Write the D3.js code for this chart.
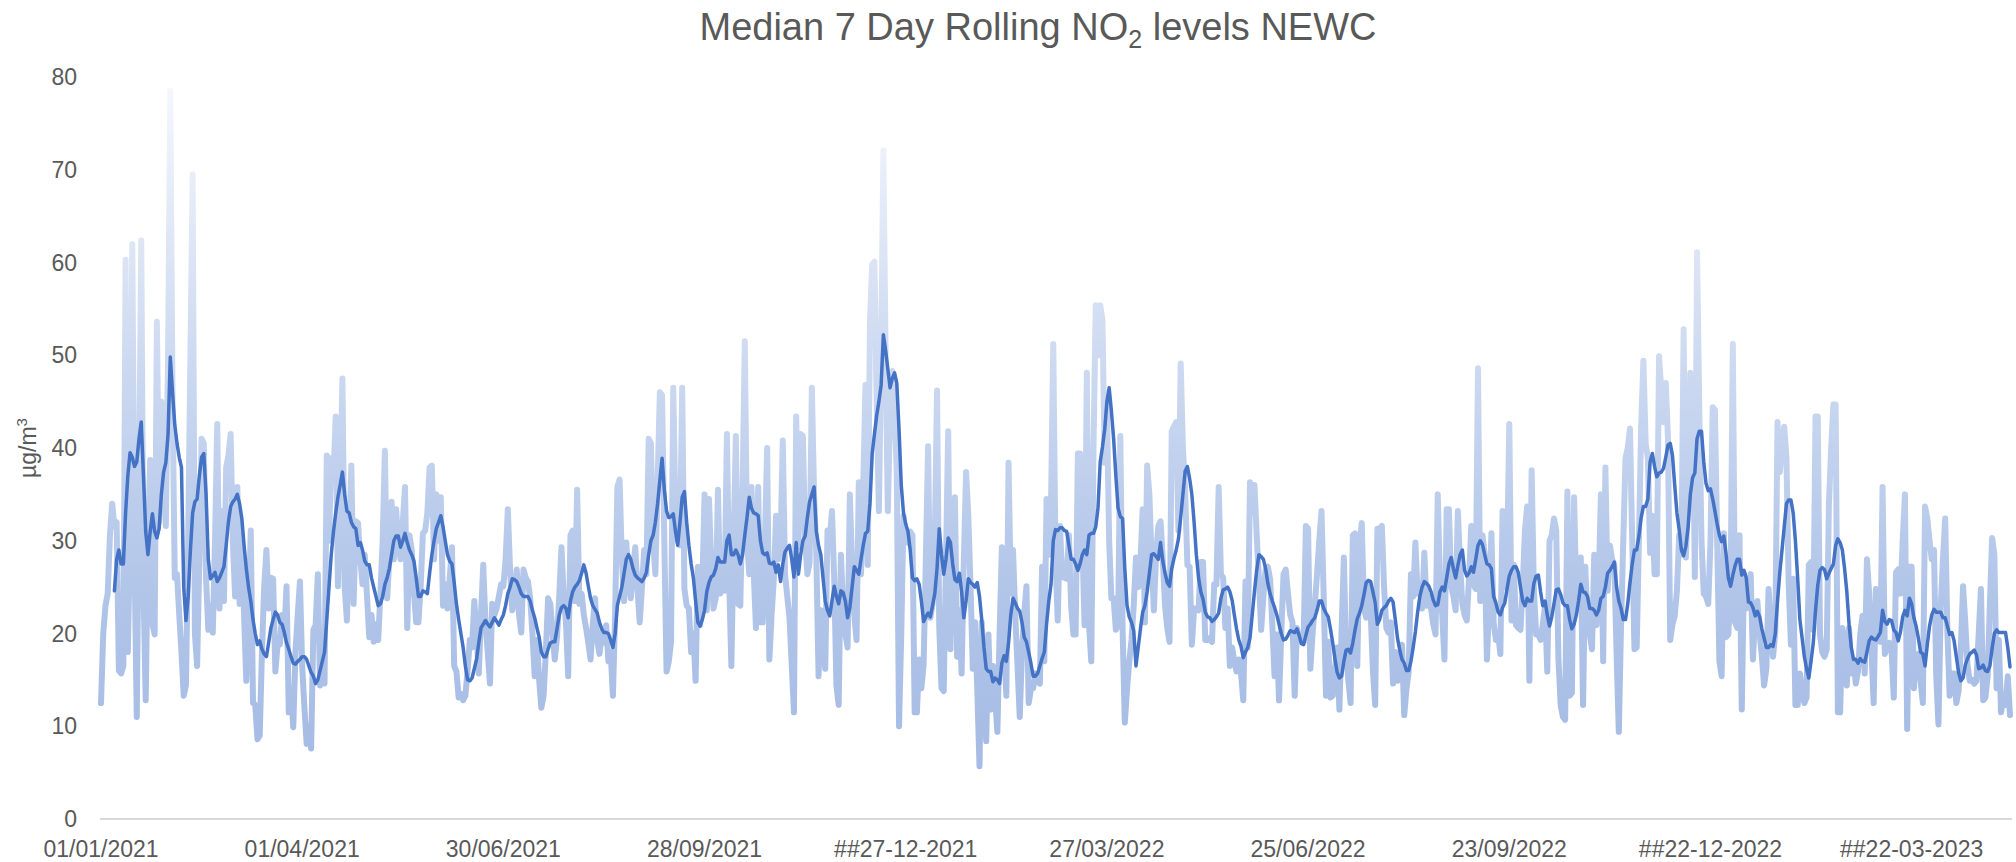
<!DOCTYPE html>
<html>
<head>
<meta charset="utf-8">
<script src="https://cdn.jsdelivr.net/npm/d3@7"></script>
<style>
  html, body { margin: 0; padding: 0; background: #ffffff; }
  svg { display: block; }
  text { font-family: "Liberation Sans", Arial, sans-serif; fill: #595959; }
</style>
</head>
<body>
<script>
// ---- Data ----
const startDate = "01/01/2021";
const tickDays = [0, 90, 180, 270, 360, 450, 540, 630, 720, 810];
const tickLabels = ["01/01/2021", "01/04/2021", "30/06/2021", "28/09/2021", "##27-12-2021",
                    "27/03/2022", "25/06/2022", "23/09/2022", "##22-12-2022", "##22-03-2023"];
const yTicks = [0, 10, 20, 30, 40, 50, 60, 70, 80];

// daily NO2 values, one per day from 01/01/2021
const dailyNO2 = [
12.5,20,23,24.3,30.6,34,31.6,32,16,15.7,
16.5,60.3,18,30,62,28,11,35,62.4,25,
12.8,30,38.7,21,19.9,53.6,32,45,38,31.6,
50,78.5,45,26,26.4,22,18,13.3,14.4,30,
50,69.5,20,16.5,28,41,40.5,25.9,20.4,23,
20.1,30,42.6,22.7,33.2,23.5,37.9,39.2,41.5,29.8,
24,35.8,23.2,30.6,22,14.9,22,31.1,12.5,12.3,
8.6,9,18,25,29,22.7,26,25.9,15.9,18.8,
18.8,22,20,25.1,11.5,14,9.9,18,22,25.6,
16.5,12,8.1,10,7.6,20.4,20.9,26.4,14.4,16,
14.6,39.2,30,38.9,36.8,43.4,25.1,35,47.5,25.1,
21.4,30,38.1,23.2,32.1,31.9,28,25.3,28.5,24,
19.6,22,19.1,21,19.3,24.3,30,39.7,23.8,28,
34.2,28,33.4,30,28,32,35.8,20.6,30.6,29,
24.3,21.2,21.2,25,30.8,31.1,33,37.9,38.1,28,
35,30,34.7,23,25.3,22.7,26,29.3,16.5,15.9,
13.1,13.5,12.8,13.3,16,19.3,18.5,23.5,20,15.7,
22,27.4,21.2,18,14.6,23.2,22,22.7,24,25.3,
25.1,28,33.4,26.9,22.5,24,26.9,22,20.1,26.9,
26,25.6,23.8,20,15.4,19.3,15,12,13.3,18,
23.8,23.2,20,17.2,19.6,24,29.3,24,21.2,15.4,
30.6,31.1,23.5,35.5,23.2,24.3,22,20.6,19,17.2,
21,23.8,19.3,17.8,20.1,19,20.9,17,18,13.3,
22,35.8,36.6,28,23.5,29.8,26,23.8,27,29.3,
24.8,21.2,25,29,26.4,41,40.5,30,26.4,36.3,
46,45.7,30,15.9,17,19.1,46.5,32.7,30,29.5,
46.5,24.8,23,22.7,18,20,14.9,27.2,20.9,25,
35,22.5,34.5,27,22.7,23.8,35.5,24.3,26,24.6,
41.5,25.9,16.5,30,41.3,23.2,23,35,51.5,30,
26.4,35.8,26.6,20.6,35.8,21.2,21.2,30,40,17.2,
22,25.9,32.7,28,30,40.8,26.4,24,21.7,16.7,
11.5,43.4,29.3,41.5,41.3,30,26.4,27.7,46.5,35,
28.5,15.4,22.5,19,16.2,31.1,30,33.2,25.9,14.4,
12.3,28.5,22.7,20,18.5,35,27.2,22,19.3,36.3,
26.4,36,46.8,27.4,53.6,59.8,60.1,45,33.2,50.4,
72.1,50,33.2,44.1,48.3,44,37.4,10,20,32.7,
30,29.8,31,30.6,11.5,11.5,17.2,14.1,16.7,28,
40.2,21.7,23.2,30,46.2,20.6,14.1,13.8,28,41.8,
18.3,30,34.7,17.5,22.5,15.7,28,37.4,32.7,25,
16.2,21.2,14,5.7,21.2,15,8.4,19.9,11.8,16.5,
13,9.4,20,29.3,18.5,13.3,38.4,24.3,29,22,
16.5,11,18,22.2,25.1,12.5,14,14.1,15.7,15,
14.6,27.2,17,34.5,28.5,34,51.2,28,21.4,31.6,
26.1,26,25.9,30.6,23,19.9,19.9,39.4,39.4,30,
20.9,48.1,20.9,17,40,55.4,50,55.4,53.8,38.4,
44.7,30,23.8,23.8,20.4,20.9,41.3,20.6,10.4,14,
17,19.3,23,28.2,25,27.7,33.4,21.2,38.1,35,
28,22.5,28.5,31.6,32.1,28,23,20.6,19.1,41.8,
42.3,42.8,31.1,49.1,40,35.3,27.4,27.2,18.8,22.7,
22.7,22.5,27.7,27.7,19.3,19.3,19.5,19.1,25.3,25.3,
35.8,26.4,26,20.6,22.7,16.5,18.5,17,15.9,17.2,
15.7,12.8,25.6,18.5,36.3,33,36,30.6,25.9,20.4,
24,26.9,27.2,25.9,20.9,15.4,19.9,12.8,20,26.4,
26.9,24.3,22,21.2,13.3,20.6,19.3,19.3,19.1,31.6,
31.3,16.2,20,23,26.4,30,33.2,23.8,13.3,19.1,
13.1,13.3,16,18.5,11.8,20.4,28.2,17.8,15,12.5,
30.6,30.8,16.5,29.3,31.9,22.7,21.7,25.6,22.2,16,
12.3,31.3,31.3,31.6,25,20.6,20.1,21.2,14.6,18,
14.9,17,18.8,11.2,14,15.9,26.4,24,29.8,24.3,
25,22.7,28.7,23,24,22.7,21,19.9,35,25.3,
22,17.2,33.4,33.4,25.1,24,22.5,33.2,27.4,23.2,
22,21.4,26,31.6,25.3,24.8,48.6,23.5,30.6,28.5,
17.2,23.2,30.8,21.2,19.3,20,17.8,33.2,25,27.4,
42.6,21.4,27.4,20.9,20.6,20.4,25,31.1,33.7,14.9,
37.6,24.8,19.9,19.9,19.3,21,23,15.9,30,30.6,
32.4,31.1,17.2,12.3,11,10.7,35.3,13.3,13.6,34.7,
23.8,22.7,28.2,12.3,27.2,21.4,20,18.3,28.5,20.9,
25.3,35,17,37.9,24.6,29.5,28,27.4,17.8,9.4,
20.9,30,38.9,40,42.1,30,18.3,18.5,30,42.3,
49.4,40.5,38.9,28.7,32.7,26.4,26.4,49.9,46.2,42.8,
47,41,19.3,21,21.9,24.6,30.6,28.5,52.8,28.2,
35,48.1,47.8,26.1,61.1,44.1,30,24.3,24,23.2,
29.8,44.4,44.1,30,17,15.4,30.8,19.6,19.9,24.6,
51.2,21.2,20.6,30.6,11.8,26.4,22.7,25.3,26.4,17.2,
21.9,23.5,20,17.5,14.4,16.2,24.8,20.6,17.5,20.1,
42.8,37.4,40,42.3,38.9,25.3,18.8,25.9,12.3,12.3,
15.7,14,12.5,13.1,27.4,27.7,20.4,43.4,43.4,19.9,
18,17.5,18.3,34,40,44.7,44.7,11.5,11.5,20.6,
19.3,14.4,20.6,15.7,17.2,14.6,15.9,19.9,21.9,15.7,
28,24.3,18.3,12.5,24.8,22,19.1,35.8,17.8,18.5,
19,18.3,13.1,26.6,26.9,24.3,30,35,9.7,27.2,
27.2,14.1,17.2,17.8,15,12.5,33.7,32.4,30,28,
29,15.4,10.2,22.7,28,32.4,20.1,13.3,15.7,15.7,
12.5,13.8,18.3,25.1,21.2,16.5,14.9,15,14.6,14.9,
20,24.8,12.8,13.1,15.4,23.2,30.3,28.5,14.1,19.3,
11.5,13,12.3,15.4,11.2
];

// 7-day rolling median, first value is day 6
const rollingStartDay = 6;
const rollingMedian7 = [
24.6,28,29,27.5,
27.5,33,37,39.5,39,38,38.5,41,42.8,37,
31,28.5,31,32.9,31,30.3,31.3,35,37.4,38.4,
41.5,49.8,46,42.5,40.5,39,37.9,25,21.4,24,
29,33,34.2,34.5,37,39,39.4,35,28,25.9,
26.2,26.6,25.6,26,26.6,27.2,29.5,32,33.7,34.2,
34.5,35,34,32.4,29.5,27,25,23.5,21.5,20,
18.8,19.2,18.3,17.8,17.5,19,20.6,21.5,22.3,22,
21.2,21,20.1,19,18.3,17.5,16.8,16.7,17,17.2,
17.5,17.5,17.2,16.5,15.8,15.4,14.6,15,16,17,
18,21.5,25,28.5,31,33,34.7,36,37.4,35,
33.2,33,32,31.5,31.3,29.5,29.8,29,27.8,27.4,
27.4,26,25,24,23,23.2,24,25.3,26,27,
28.5,30,30.5,30.5,29.3,30,30.8,29.8,29,28.5,
27.8,26,24,24,24.6,24.5,24.3,26.5,28.5,30,
31.3,32,32.7,31.5,30,28.5,27.8,27.5,25.5,23.2,
21.5,20,18.5,16.5,15,14.9,15.2,16.2,17.2,19,
20.6,21,21.4,21,20.7,21.2,21.7,21.3,20.9,21.5,
22,23,24.3,25,25.9,25.8,25.6,25,24.3,24,
24,24,23.5,22.5,21.7,20.6,19.6,18,17.5,17.5,
18.3,19,19.1,19.1,20.5,22,22.8,23,22.7,21.7,
23.5,24.5,25,25.3,25.7,26.5,27.4,26.5,25.1,23.8,
23,22.6,22.2,21.2,20.5,20.1,20.1,20,19.3,18.5,
20,23,24,25,26.5,28,28.5,28,27,26.3,
26,25.8,25.6,26,26.6,28.5,30,30.6,32,34,
36.5,38.9,35.5,33.2,32.5,32.6,32.9,31,29.5,32,
34.7,35.3,32,29.5,27.5,26,23.5,21.2,20.8,21.5,
22.5,24.5,25.5,26.1,26.3,27,28.2,27.7,27.7,27.7,
30,30.6,28.5,28.5,29,28.5,27.5,28.5,30.6,32.5,
34.7,33.5,33,32.9,32.7,30,28.7,28.5,28.7,27.6,
27.5,27.7,26.6,27.4,25.6,27.5,28.8,29.2,29.5,28,
26.1,29.8,26.4,28.5,30,30.5,32.5,34.2,35,35.8,
31,29.5,28.5,26,23.5,22.5,21.9,23.5,25.1,24,
23.2,24.6,24.4,23.5,21.7,22.8,25,27.2,26.8,26.4,
28,29.5,30.8,31,34,39.4,41.5,43.5,45,46.8,
52.2,50.5,48.5,46.5,47.5,48.1,47,42,36,33,
31.8,31,29,26,25.7,25.9,25.3,23.5,21.3,21.8,
22.2,21.8,23,24.3,27,31.3,28.5,26.4,28,30.3,
29.8,27.5,25.8,25.6,26.5,24.5,21.7,23.5,25.9,25.5,
25.3,25,25.5,24,21.5,18.5,16.2,15.9,15.9,14.8,
15.2,15,14.6,16.8,17.6,17,19,22,23.8,23.3,
22.7,22.4,21.2,19.6,19.1,18,16.8,15.4,15.4,15.7,
16.5,17.3,18,21,23.5,25.3,30,31.2,31.1,31.4,
31.4,31.1,31,29.5,28,28,27.5,26.8,27.5,28.5,
29,28.5,30.6,30.8,30.8,31.5,33.5,38.5,40.1,42,
45,46.5,44,41,37,33.5,32.6,32.4,27,23,
21.8,21.2,20.3,16.5,18.5,20.5,22.3,23,24.5,26.5,
28.5,28.6,28.3,28,29.8,27.8,26.5,25.5,25.1,27,
28.1,29,30.2,32.5,35,37.5,38,36.7,35,32,
28.5,26,24.5,23.7,22.3,21.8,21.7,21.3,21.5,21.8,
22.2,23.8,24.7,24.8,25,24.5,23.6,22,20.5,19.3,
18.6,17.4,18,18.5,19.5,22,24.5,26.8,28.5,28.3,
28,27,25.4,24.3,23.5,22.8,22,21,20,19.3,
19.4,19.8,20.3,20.2,20.1,20.5,19.8,18.9,18.8,19.8,
20.7,21,21.4,21.7,22.5,23.5,23.5,22.7,22.2,21.8,
20.5,19,17.3,15.8,15.2,15.4,17,18.2,18.3,17.9,
19,20.4,21.6,22.2,23,24.2,25.5,25.7,25.6,24.5,
23.3,21,21.5,22.5,22.8,23,23.5,23.8,23.4,21.5,
19.5,18.2,17.2,16.8,16,16,17,18.5,20.2,22.3,
24,25,25.6,25.4,25.1,24.5,23.6,23,23.1,24.5,
25,24.6,26,27.5,28.2,27,26,27.3,28.5,29,
26.8,26.2,26.5,27.2,26.6,28,29.5,30,29.6,28.5,
27.5,27.4,27,24,23.3,22.3,22,22.8,23.3,24.8,
26.2,26.8,27.2,27.2,26.6,25,23.5,23,23.8,23.5,
23.5,25.4,26.2,26.3,24.5,23,23.5,22,20.8,21.8,
23.2,24.7,24.8,24.2,23.3,23,23,21.5,20.5,21,
22,23.5,25.3,24.5,24.4,24,22.7,22.7,22.5,22,
22.5,23.8,24,25,26.5,26.8,27.2,27.7,25,23.5,
22.7,21.5,21.5,23.2,25.5,27.5,29,29,30.5,32.5,
33.7,33.7,34.5,38.5,39.4,38,36.9,37.3,37.4,37.8,
39,40.3,40.5,39.2,36,33,31.2,29,28.4,29.4,
31.5,35,36.8,37.3,41,41.8,41.8,38.5,36.2,35.4,
35.6,34.5,33.2,31.8,30.6,29.9,30.5,28.5,26,25.1,
26.3,27.3,28,28,26.3,26.8,26,23.4,23.3,22.8,
21.9,22.4,21.8,20.5,19.5,18.5,18.5,18.8,18.6,20,
23.5,26.5,29,31.5,34,34.4,34.4,33,30,26,
21.5,19.5,17.5,16.2,15.2,17,19,22.5,25.2,26.8,
27.1,26.9,25.9,26.5,27,27.5,29.5,30.2,29.8,29,
27,24.5,21,18.5,17.2,17.2,16.8,17.3,17,16.9,
18,19.2,19.6,19.4,19.3,19.7,20.1,22.5,21.3,21,
21.5,21.4,20.4,20.1,19.2,20.2,21.8,22.5,21.9,23.8,
23.2,21.7,20.8,19.5,18,17.8,16.5,18.8,20.8,22,
22.6,22.3,22.3,22.3,21.7,21.7,20.8,19.9,20.1,19.2,
17.5,15.8,14.9,15.2,16.6,17.3,17.8,18,18.2,17.7,
16.2,16.3,16.6,16,15.9,16.5,18.4,20,20.4,20.1,
20.1,20.1,20.1,18.5,16.4
];

// ---- Chart ----
const W = 2016, H = 862;
const svg = d3.select("body").append("svg").attr("width", W).attr("height", H);

const x = d3.scaleLinear().domain([0, dailyNO2.length - 1]).range([101, 2010]);
const y = d3.scaleLinear().domain([0, 80]).range([819, 77]);

// gradient for the daily line (paler towards the top)
const defs = svg.append("defs");
const grad = defs.append("linearGradient")
  .attr("id", "dailyGrad")
  .attr("gradientUnits", "userSpaceOnUse")
  .attr("x1", 0).attr("x2", 0)
  .attr("y1", y(0)).attr("y2", y(80));
grad.append("stop").attr("offset", "0%").attr("stop-color", "#a2b8e2");
grad.append("stop").attr("offset", "30%").attr("stop-color", "#b1c5e9");
grad.append("stop").attr("offset", "60%").attr("stop-color", "#cbd8f0");
grad.append("stop").attr("offset", "100%").attr("stop-color", "#f6f8fd");

// title
const title = svg.append("text")
  .attr("x", 1038).attr("y", 40)
  .attr("text-anchor", "middle")
  .style("font-size", "38px");
title.append("tspan").text("Median 7 Day Rolling NO");
title.append("tspan").attr("dy", 8).style("font-size", "25px").text("2");
title.append("tspan").attr("dy", -8).text(" levels NEWC");

// y axis labels
svg.append("g")
  .selectAll("text")
  .data(yTicks)
  .join("text")
  .attr("x", 77)
  .attr("y", d => y(d))
  .attr("dy", "0.35em")
  .attr("text-anchor", "end")
  .style("font-size", "23px")
  .text(d => d);

// y axis title
const yt = svg.append("text")
  .attr("transform", `translate(36, ${y(40)}) rotate(-90)`)
  .attr("text-anchor", "middle")
  .style("font-size", "23px");
yt.append("tspan").text("µg/m");
yt.append("tspan").attr("dy", -9).style("font-size", "15px").text("3");

// x axis line
svg.append("line")
  .attr("x1", x(0) - 1).attr("x2", x(dailyNO2.length - 1) + 2)
  .attr("y1", y(0)).attr("y2", y(0))
  .attr("stroke", "#d9d9d9").attr("stroke-width", 2);

// x tick labels
svg.append("g")
  .selectAll("text")
  .data(tickDays)
  .join("text")
  .attr("x", d => x(d))
  .attr("y", 857)
  .attr("text-anchor", "middle")
  .style("font-size", "23px")
  .text((d, i) => tickLabels[i]);

// daily line
const lineDaily = d3.line().x((d, i) => x(i)).y(d => y(d));
svg.append("path")
  .datum(dailyNO2)
  .attr("d", lineDaily)
  .attr("fill", "none")
  .attr("stroke", "url(#dailyGrad)")
  .attr("stroke-width", 6)
  .attr("stroke-linejoin", "round")
  .attr("stroke-linecap", "round");

// rolling median line
const lineMed = d3.line().x((d, i) => x(i + rollingStartDay)).y(d => y(d));
svg.append("path")
  .datum(rollingMedian7)
  .attr("d", lineMed)
  .attr("fill", "none")
  .attr("stroke", "#4472c4")
  .attr("stroke-width", 3.5)
  .attr("stroke-linejoin", "round")
  .attr("stroke-linecap", "round");
</script>
</body>
</html>
